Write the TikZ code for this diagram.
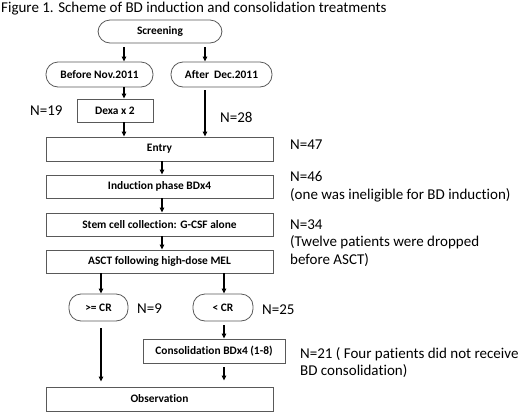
\documentclass[tikz,border=0pt]{standalone}
\usepackage{fontspec}
\setmainfont[Ligatures=NoCommon]{Carlito}
\usetikzlibrary{positioning,arrows.meta}

\begin{document}
\begin{tikzpicture}[x=1pt,y=-1pt,
  box/.style={draw=black!65, line width=0.8pt, inner sep=0pt, minimum height=23pt,
    font=\bfseries\fontsize{11.4}{13}\selectfont},
  pill/.style={box, rounded corners=12pt},
  note/.style={anchor=west, inner sep=0pt, align=left,
    font=\fontsize{15}{17.5}\selectfont},
  arr/.style={line width=1.2pt, -{Triangle[length=5pt,width=4.5pt]}}]
\useasboundingbox (0,0) rectangle (520,413);
\node[anchor=west, inner sep=0pt, font=\fontsize{15}{17}\selectfont] (title) at (1,9)
  {Figure 1. Scheme of BD induction and consolidation treatments};
% boxes
\node[pill, minimum width=124pt] (scr) at (160,31.5) {Screening};
\node[pill, minimum width=107pt, minimum height=25pt] (bef) at (99.5,74.5) {Before Nov.2011};
\node[pill, minimum width=101pt, minimum height=25pt] (aft) at (221.5,74.5) {After~~Dec.2011};
\node[box, minimum width=76pt] (dexa) at (115,110.5) {Dexa x 2};
\node[box, minimum width=227pt, minimum height=24pt] (entry) at (159.5,149) {Entry};
\node[box, minimum width=227pt] (ind) at (159.5,186.5) {Induction phase BDx4};
\node[box, minimum width=227pt] (stem) at (159.5,224.5) {Stem cell collection: G-CSF alone};
\node[box, minimum width=227pt] (asct) at (159.5,261.5) {ASCT following high-dose MEL};
\node[pill, minimum width=59pt, minimum height=27pt] (ge) at (98.5,307.5) {>= CR};
\node[pill, minimum width=60pt, minimum height=27pt] (lt) at (223,307.5) {< CR};
\node[box, minimum width=142pt, minimum height=24pt] (cons) at (214,351) {Consolidation BDx4 (1-8)};
\node[box, minimum width=227pt, minimum height=24pt] (obs) at (159.5,399) {Observation};
% numbers
\node[note] (n19) at (30,111) {N=19};
\node[note] (n28) at (220,117) {N=28};
\node[note] (n47) at (290,145) {N=47};
\node[note] (n46) at (290,186.5) {N=46\\(one was ineligible for BD induction)};
\node[note] (n34) at (290,243) {N=34\\(Twelve patients were dropped\\before ASCT)};
\node[note] (n9) at (137,309) {N=9};
\node[note] (n25) at (262,310) {N=25};
\node[note] (n21) at (300,362.5) {N=21 ( Four patients did not receive\\BD consolidation)};
% arrows
\coordinate (lx) at (124,0);
\coordinate (rx) at (205,0);
\coordinate (mx) at (162,0);
\coordinate (clx) at (101,0);
\coordinate (crx) at (224,0);
\draw[arr, shorten <=4pt] (scr.south -| lx) -- (bef.north -| lx);
\draw[arr, shorten <=4pt] (scr.south -| rx) -- (aft.north -| rx);
\draw[arr] (bef.south -| lx) -- (dexa.north -| lx);
\draw[arr] (dexa.south -| lx) -- (entry.north -| lx);
\draw[arr, shorten <=3pt] (aft.south -| rx) -- (entry.north -| rx);
\draw[arr] (entry.south -| mx) -- (ind.north -| mx);
\draw[arr] (ind.south -| mx) -- (stem.north -| mx);
\draw[arr] (stem.south -| mx) -- (asct.north -| mx);
\draw[arr] (asct.south -| clx) -- (ge.north -| clx);
\draw[arr] (asct.south -| crx) -- (lt.north -| crx);
\draw[arr, shorten <=7pt, shorten >=5pt] (ge.south -| clx) -- (obs.north -| clx);
\draw[arr, shorten <=4pt] (lt.south -| crx) -- (cons.north -| crx);
\draw[arr, shorten <=4pt, shorten >=6pt] (cons.south -| crx) -- (obs.north -| crx);
\end{tikzpicture}
\end{document}
